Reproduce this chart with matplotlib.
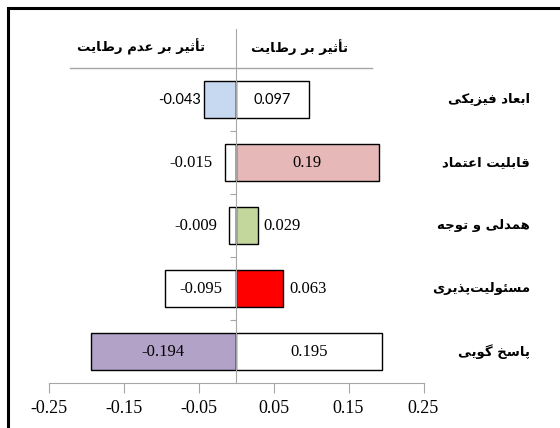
import matplotlib.pyplot as plt
import matplotlib.patches as mpatches
import numpy as np

categories = ['ابعاد فیزیکی', 'قابلیت اعتماد', 'همدلی و توجه', 'مسئولیت\u200cپذیری', 'پاسخ گویی']
neg_values = [-0.043, -0.015, -0.009, -0.095, -0.194]
pos_values = [0.097, 0.19, 0.029, 0.063, 0.195]
neg_labels = ['-0.043', '-0.015', '-0.009', '-0.095', '-0.194']
pos_labels = ['0.097', '0.19', '0.029', '0.063', '0.195']
neg_colors = ['#c6d9f0', 'white', 'white', 'white', '#b3a2c7']
pos_colors = ['white', '#e6b9b8', '#c3d69b', '#ff0000', 'white']
neg_inside = [False, False, False, True, True]
pos_inside = [True, True, False, False, True]
header_left = 'تأثیر بر عدم رضایت'
header_right = 'تأثیر بر رضایت'
xticks = [-0.25, -0.15, -0.05, 0.05, 0.15, 0.25]

# forms: isolated, final, initial, medial (None = letter does not join forward)
FORMS = {
    'ا': ('\uFE8D', '\uFE8E', None, None),
    'أ': ('\uFE83', '\uFE84', None, None),
    'د': ('\uFEA9', '\uFEAA', None, None),
    'ذ': ('\uFEAB', '\uFEAC', None, None),
    'ر': ('\uFEAD', '\uFEAE', None, None),
    'ز': ('\uFEAF', '\uFEB0', None, None),
    'و': ('\uFEED', '\uFEEE', None, None),
    'ب': ('\uFE8F', '\uFE90', '\uFE91', '\uFE92'),
    'ت': ('\uFE95', '\uFE96', '\uFE97', '\uFE98'),
    'ث': ('\uFE99', '\uFE9A', '\uFE9B', '\uFE9C'),
    'ج': ('\uFE9D', '\uFE9E', '\uFE9F', '\uFEA0'),
    'خ': ('\uFEA5', '\uFEA6', '\uFEA7', '\uFEA8'),
    'س': ('\uFEB1', '\uFEB2', '\uFEB3', '\uFEB4'),
    'ض': ('\uFEBF', '\uFEC0', '\uFEC1', '\uFEC2'),
    'ع': ('\uFEC9', '\uFECA', '\uFECB', '\uFECC'),
    'ف': ('\uFED1', '\uFED2', '\uFED3', '\uFED4'),
    'ق': ('\uFED5', '\uFED6', '\uFED7', '\uFED8'),
    'ل': ('\uFEDD', '\uFEDE', '\uFEDF', '\uFEE0'),
    'م': ('\uFEE1', '\uFEE2', '\uFEE3', '\uFEE4'),
    'ن': ('\uFEE5', '\uFEE6', '\uFEE7', '\uFEE8'),
    'ه': ('\uFEE9', '\uFEEA', '\uFEEB', '\uFEEC'),
    'ئ': ('\uFE89', '\uFE8A', '\uFE8B', '\uFE8C'),
    'پ': ('\uFB56', '\uFB57', '\uFB58', '\uFB59'),
    'ک': ('\uFB8E', '\uFB8F', '\uFB90', '\uFB91'),
    'گ': ('\uFB92', '\uFB93', '\uFB94', '\uFB95'),
    'ی': ('\uFBFC', '\uFBFD', '\uFBFE', '\uFBFF'),
}


def rtl(s):
    out = []
    for i, c in enumerate(s):
        if c not in FORMS:
            if c != '\u200c':
                out.append(c)
            continue
        prev = s[i - 1] if i > 0 else None
        nxt = s[i + 1] if i + 1 < len(s) else None
        jp = prev in FORMS and FORMS[prev][2] is not None
        jn = nxt in FORMS and FORMS[c][2] is not None
        iso, fin, ini, med = FORMS[c]
        if jp and jn:
            out.append(med)
        elif jp:
            out.append(fin)
        elif jn:
            out.append(ini)
        else:
            out.append(iso)
    return ''.join(out)[::-1]


W, H = 560, 428
fig = plt.figure(figsize=(W / 100, H / 100), dpi=100)
ax = fig.add_axes([48.5 / W, (H - 383) / H, 375 / W, (383 - 29) / H])

y = np.arange(len(categories))
bh = 0.6
ax.barh(y, neg_values, height=bh, color=neg_colors, edgecolor='black', linewidth=1, zorder=2)
ax.barh(y, pos_values, height=bh, color=pos_colors, edgecolor='black', linewidth=1, zorder=2)

serif = 'Liberation Serif'
for i in range(len(categories)):
    fam = 'Lato' if i == 0 else serif
    fs = 10.5 if i == 0 else 12
    gap = 3 if i == 0 else 12
    v = neg_values[i]
    if neg_inside[i]:
        ax.text(v / 2, y[i], neg_labels[i], ha='center', va='center', fontsize=fs, family=fam, zorder=3)
    else:
        ax.annotate(neg_labels[i], (v, y[i]), xytext=(-gap, 0), textcoords='offset pixels',
                    ha='right', va='center', fontsize=fs, family=fam)
    v = pos_values[i]
    if pos_inside[i]:
        ax.text(v / 2, y[i], pos_labels[i], ha='center', va='center', fontsize=fs, family=fam, zorder=3)
    else:
        ax.annotate(pos_labels[i], (v, y[i]), xytext=(6, 0), textcoords='offset pixels',
                    ha='left', va='center', fontsize=fs, family=fam)
    ax.text(0.392, y[i], rtl(categories[i]), ha='right', va='center', fontsize=9.5,
            family='DejaVu Sans', fontweight='bold', clip_on=False)

# header
ax.plot([-0.221, 0.181], [-0.5, -0.5], color='#a6a6a6', lw=1, clip_on=False)
ax.text(-0.127, -0.833, rtl(header_left), ha='center', va='center', fontsize=9.5,
        family='DejaVu Sans', fontweight='bold')
ax.text(0.085, -0.833, rtl(header_right), ha='center', va='center', fontsize=9.5,
        family='DejaVu Sans', fontweight='bold')

ax.set_xlim(-0.25, 0.25)
ax.set_ylim(4.5, -1.12)
ax.set_xticks(xticks)
ax.set_xticklabels(['%.2f' % t for t in xticks], family=serif, fontsize=13)
ax.tick_params(axis='x', length=7, color='#a6a6a6', pad=5)
ax.spines['left'].set_position(('data', 0))
ax.spines['left'].set_color('#a6a6a6')
ax.spines['left'].set_zorder(4)
ax.spines['bottom'].set_color('#a6a6a6')
ax.spines['top'].set_visible(False)
ax.spines['right'].set_visible(False)
ax.set_yticks([0.5, 1.5, 2.5, 3.5])
ax.set_yticklabels([])
ax.tick_params(axis='y', length=4, color='#a6a6a6')

fig.add_artist(mpatches.Rectangle((8 / W, -0.2), 1.2, 1.2 - 8 / H, fill=False, lw=2.2,
                                  edgecolor='black', transform=fig.transFigure, clip_on=False))

fig.savefig('out.png', dpi=100)
